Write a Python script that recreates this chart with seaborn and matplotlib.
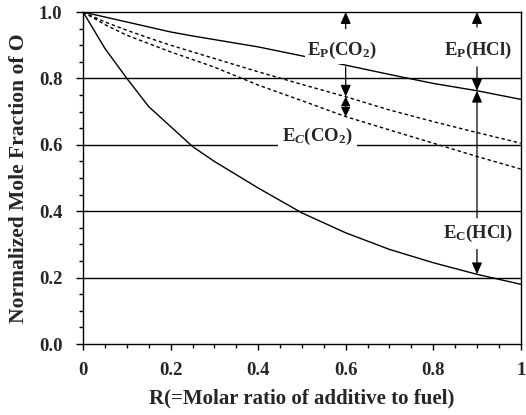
import numpy as np
import pandas as pd
import matplotlib
matplotlib.use("Agg")
import matplotlib.pyplot as plt
import seaborn as sns
from matplotlib.ticker import MultipleLocator

# ---- data ----
r = [0.0, 0.05, 0.1, 0.15, 0.2, 0.25, 0.3, 0.4, 0.5, 0.6, 0.7, 0.8, 0.9, 1.0]
ep_hcl = [1.0, 0.985, 0.97, 0.955, 0.94, 0.928, 0.917, 0.895, 0.868, 0.84, 0.812, 0.785, 0.763, 0.737]
ep_co2_dash = [1.0, 0.97, 0.945, 0.922, 0.90, 0.88, 0.86, 0.82, 0.782, 0.745, 0.705, 0.67, 0.637, 0.605]
ec_co2_dash = [1.0, 0.962, 0.93, 0.905, 0.88, 0.857, 0.834, 0.78, 0.733, 0.685, 0.645, 0.605, 0.565, 0.527]
ec_hcl = [1.0, 0.89, 0.80, 0.715, 0.655, 0.595, 0.55, 0.47, 0.395, 0.335, 0.285, 0.245, 0.21, 0.18]

x_ticks = [0, 0.2, 0.4, 0.6, 0.8, 1.0]
x_ticklabels = ["0", "0.2", "0.4", "0.6", "0.8", "1"]
y_ticks = [0.0, 0.2, 0.4, 0.6, 0.8, 1.0]
y_ticklabels = ["0.0", "0.2", "0.4", "0.6", "0.8", "1.0"]
grid_levels = [0.2, 0.4, 0.6, 0.8]
x_co2 = 0.6
x_hcl = 0.9

df = pd.DataFrame({"R": r, "ep_hcl": ep_hcl, "ep_co2": ep_co2_dash,
                   "ec_co2": ec_co2_dash, "ec_hcl": ec_hcl})

sns.set_theme(style="white")
plt.rcParams["font.family"] = ["Liberation Serif", "DejaVu Serif"]
plt.rcParams["font.weight"] = "bold"
plt.rcParams["mathtext.fontset"] = "custom"
plt.rcParams["mathtext.rm"] = "Liberation Serif:weight=bold"
plt.rcParams["mathtext.it"] = "Liberation Serif:style=italic:weight=bold"
plt.rcParams["mathtext.bf"] = "Liberation Serif:weight=bold"

fig = plt.figure(figsize=(5.26, 4.15), dpi=100)
ax = fig.add_axes([0.158, 0.171, 0.832, 0.800])

for lvl in grid_levels:
    ax.axhline(lvl, color="black", lw=1.0, zorder=1)

sns.lineplot(data=df, x="R", y="ep_hcl", ax=ax, color="black", lw=1.0, zorder=2)
sns.lineplot(data=df, x="R", y="ec_hcl", ax=ax, color="black", lw=1.0, zorder=2)
sns.lineplot(data=df, x="R", y="ep_co2", ax=ax, color="black", lw=1.0,
             linestyle=(0, (2.5, 2)), zorder=2)
sns.lineplot(data=df, x="R", y="ec_co2", ax=ax, color="black", lw=1.0,
             linestyle=(0, (2.5, 2)), zorder=2)

ax.set_xlim(0, 1)
ax.set_ylim(0, 1)
ax.set_xticks(x_ticks)
ax.set_xticklabels(x_ticklabels)
ax.set_yticks(y_ticks)
ax.set_yticklabels(y_ticklabels)
ax.xaxis.set_minor_locator(MultipleLocator(0.05))
ax.yaxis.set_minor_locator(MultipleLocator(0.05))
ax.tick_params(axis="both", which="both", direction="out", color="black",
               bottom=True, left=True, top=False, right=False)
ax.tick_params(axis="x", which="major", length=4, width=1, pad=9, labelsize=13.5)
ax.tick_params(axis="y", which="major", length=5, width=1, pad=10, labelsize=13.5)
ax.tick_params(axis="x", which="minor", length=3, width=1)
ax.tick_params(axis="y", which="minor", length=3, width=1)
for lab in ax.get_xticklabels() + ax.get_yticklabels():
    lab.set_fontweight("bold")
for sp in ax.spines.values():
    sp.set_visible(True)
    sp.set_color("black")
    sp.set_linewidth(1.0)

ax.set_xlabel("R(=Molar ratio of additive to fuel)", fontsize=15,
              fontweight="bold", labelpad=7)
ax.set_ylabel("Normalized Mole Fraction of O", fontsize=15.5,
              fontweight="bold", labelpad=7)

# curve values at annotation positions
p_co2 = np.interp(x_co2, r, ep_co2_dash)
c_co2 = np.interp(x_co2, r, ec_co2_dash)
p_hcl = np.interp(x_hcl, r, ep_hcl)
c_hcl = np.interp(x_hcl, r, ec_hcl)

ap = dict(arrowstyle="-|>,head_length=0.5,head_width=0.22", color="black",
          lw=0.9, mutation_scale=14, shrinkA=0, shrinkB=0)
ap2 = dict(arrowstyle="<|-|>,head_length=0.5,head_width=0.25", color="black",
           lw=0.9, mutation_scale=11, shrinkA=0, shrinkB=0)
box = dict(facecolor="white", edgecolor="none", pad=1.5)
tfs = 13.5

# E_P(CO2)
ax.annotate("", xy=(x_co2, 1.0), xytext=(x_co2, 0.95), arrowprops=ap, zorder=4)
ax.text(x_co2 - 0.008, 0.883, r"E$_{\mathrm{P}}$(CO$_{\mathrm{2}}$)", ha="center",
        va="center", fontsize=tfs, fontweight="bold", bbox=box, zorder=3)
ax.annotate("", xy=(x_co2, p_co2), xytext=(x_co2, 0.835), arrowprops=ap, zorder=4)
ax.annotate("", xy=(x_co2, c_co2), xytext=(x_co2, p_co2), arrowprops=ap2, zorder=4)
ax.text(x_co2 - 0.065, 0.625, r"E$_{\mathit{C}}$(CO$_{\mathrm{2}}$)", ha="center",
        va="center", fontsize=tfs, fontweight="bold",
        bbox=dict(facecolor="white", edgecolor="none", pad=3), zorder=3)

# E_P(HCl) and E_C(HCl)
ax.annotate("", xy=(x_hcl, 1.0), xytext=(x_hcl, 0.955), arrowprops=ap, zorder=4)
ax.text(x_hcl + 0.002, 0.885, r"E$_{\mathrm{P}}$(HCl)", ha="center",
        va="center", fontsize=tfs, fontweight="bold", bbox=box, zorder=3)
ax.annotate("", xy=(x_hcl, p_hcl), xytext=(x_hcl, 0.835), arrowprops=ap, zorder=4)
ax.annotate("", xy=(x_hcl, p_hcl), xytext=(x_hcl, 0.38), arrowprops=ap, zorder=4)
ax.text(x_hcl + 0.002, 0.332, r"E$_{\mathrm{C}}$(HCl)", ha="center",
        va="center", fontsize=tfs, fontweight="bold", bbox=box, zorder=3)
ax.annotate("", xy=(x_hcl, c_hcl), xytext=(x_hcl, 0.285), arrowprops=ap, zorder=4)

fig.savefig("out.png", dpi=100)
